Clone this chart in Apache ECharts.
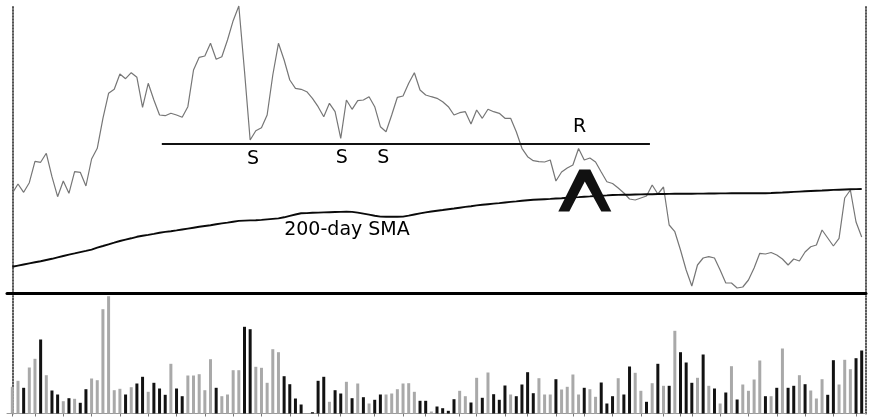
<!DOCTYPE html>
<html>
<head>
<meta charset="utf-8">
<script src="https://cdn.jsdelivr.net/npm/echarts@6/dist/echarts.min.js"></script>
<style>html,body{margin:0;padding:0;background:#fff;}#c{width:869px;height:419px;}</style>
</head>
<body>
<div id="c"></div>
<script>
// Daily closing price (arbitrary price units), 151 sessions
const price = [
98.7,108,99.7,109.3,130.7,129.7,138.7,115.3,95.3,111,
98.7,120.3,119.7,106,133,143.7,173.7,198.7,202.7,218,
213.3,219.3,214.7,184.7,208.7,192,177,176.3,178.7,177,
174.7,185.3,222,234.7,236,248.7,232.7,235.3,252,271.3,
286,221,152,161.3,164.3,177,217,248.7,232,212,
203.7,202.7,200.3,193.7,185.3,175.3,188.7,180.3,153.7,192,
182.7,191.3,192,195.3,185.3,165.3,160.3,177,194.7,196,
208.7,219.3,202,197,195.3,193.7,190.3,185.3,177,179.3,
180.3,168,182,173.7,182.7,180.3,178.7,173.7,173.7,160.3,
143.7,135.3,131.3,130.3,130,132,111,120,124,127,
143.5,132,134,130,120,110.3,108.5,104,99,93,
92,94,96,107,98,105,67,60.3,42,22,
6,27,34,35.3,34,22,9,9,4,5,
12,24,38.7,38,39.5,37,33,27,33,31,
40,45.3,47,62,54,46,53.7,94,102,70,55
];
// 200-day simple moving average
const sma200 = [
25.3,26.4,27.5,28.6,29.7,30.8,32,33.2,34.6,36,
37.4,38.6,39.9,41.1,42.4,44.4,46,47.7,49.3,51,
52.4,53.7,55.2,56.2,57.1,58.1,59.2,60.1,60.8,61.6,
62.5,63.4,64.3,65.2,66,66.8,67.7,68.6,69.4,70.3,
71.1,71.4,71.6,71.8,72.1,72.6,73.1,73.6,74.7,76.1,
77.5,78.7,78.9,79.2,79.4,79.6,79.8,80,80.1,80.3,
80.1,79.4,78.4,77.4,76.3,75.4,75.2,75.2,75.3,75.4,
76.4,77.5,78.6,79.6,80.5,81.3,82,82.8,83.5,84.3,
85.1,85.8,86.6,87.2,87.8,88.4,88.9,89.5,90.1,90.6,
91.2,91.8,92.2,92.5,92.8,93.1,93.5,93.8,94.2,94.6,
94.9,95.3,95.6,96,96.3,96.6,97,97.1,97.2,97.3,
97.5,97.6,97.7,97.8,98,98,98.1,98.2,98.2,98.3,
98.3,98.4,98.4,98.5,98.5,98.6,98.6,98.7,98.7,98.7,
98.7,98.7,98.7,98.8,99,99.3,99.5,99.8,100.1,100.4,
100.7,101,101.3,101.5,101.8,102.1,102.3,102.5,102.7,102.9,103
];
// Daily volume (arbitrary units)
const volume = [
26.7,32.7,25.7,46,54.7,74,38.3,23,19,12.3,
15.3,14.7,10.7,24.3,35,33.3,104.3,117.3,23.3,24.7,
19,26.3,30,36.7,21.7,30.7,25,18.7,49.7,25,
17.3,38,38,39.3,23.3,54.3,25.7,17.3,19,43.3,
43.3,86.7,84.3,46.7,45.7,30.7,64.3,61.3,37.3,29.3,
15,9,0,1.3,32.7,36.7,11.7,23.3,20,31.7,
15.3,30,16.3,10,13.7,19,19,20,24.3,30,
30.3,21.7,12.7,12.7,2,7,5.3,2.7,14.3,22.7,
17.3,11,35.7,15.7,41,19.3,13.7,28,19,17.3,
29,41.3,20.3,35.3,19,19,34.3,24,26.7,39,
19,25.7,24.3,16.7,31,10,17.3,35.3,19,47,
40.7,22.7,11.7,30.3,49.7,27.7,27.7,82.7,61.3,51,
30.7,35.7,59,27.7,25,10,21,47.3,14,29,
22.7,34,53,17.3,17.3,25.7,65,25.7,27.7,38.3,
29.3,23,15,34.3,18.7,53.3,29,53.7,44.3,55.3,63
];
// 1 = dark (down) volume bar, 0 = light (up) volume bar
const volumeDown = [
0,0,1,0,0,1,0,1,1,0,
1,0,1,1,0,0,0,0,0,0,
1,0,1,1,0,1,1,1,0,1,
1,0,0,0,0,0,1,0,0,0,
0,1,1,0,0,0,0,0,1,1,
1,1,0,1,1,1,0,1,1,0,
1,0,1,0,1,1,0,0,0,0,
0,0,1,1,0,1,1,1,1,0,
0,1,0,1,0,1,1,1,0,1,
1,1,1,0,0,0,1,0,0,0,
0,1,0,0,1,1,1,0,1,1,
0,0,1,0,1,0,1,0,1,1,
1,0,1,0,1,0,1,0,1,0,
0,0,0,1,0,1,0,1,1,0,
1,0,0,0,1,1,0,0,0,1,1
];
// session indices carrying a tick on the time axis
const timeTicks = [0,4,9,14,19,24,29,34,39,44,49,54,58,64,69,73,79,82,87,91,96,99,101,106,111,115,118,120,125,130,135,140,145,149];
// annotations
const noteLabels = ['S','S','S','R','200-day SMA'];
const notePoints = [[42.5,133.3],[58.2,134],[65.5,134],[100.2,164.5],[59.1,62]];
const supportLevel = 148;
const supportSpan = [26.4,112.6];
const caretPoint = [101.1,101.5];

const chart = echarts.init(document.getElementById('c'), null, {renderer:'canvas'});
const X_MIN = -0.94, X_MAX = 150.76;
const dotted = {show:true, lineStyle:{color:'#555', width:2, type:[1,2]}};
const noAxisBits = {axisTick:{show:false}, axisLabel:{show:false}, splitLine:{show:false}};
const font = 'DejaVu Sans';

chart.setOption({
  animation:false,
  backgroundColor:'#fff',
  grid:[
    {left:7, right:3, top:5, height:288},
    {left:7, right:3, top:296, height:117.5}
  ],
  xAxis:[
    Object.assign({type:'value', gridIndex:0, min:X_MIN, max:X_MAX,
      axisLine:{show:true, onZero:false, lineStyle:{color:'#000', width:3}}}, noAxisBits),
    {type:'value', gridIndex:1, min:X_MIN, max:X_MAX,
      axisLine:{show:true, onZero:false, lineStyle:{color:'#999', width:1}},
      axisTick:{show:true, customValues:timeTicks, length:3, lineStyle:{color:'#777', width:1}},
      axisLabel:{show:false}, splitLine:{show:false}}
  ],
  yAxis:[
    Object.assign({type:'value', gridIndex:0, min:-1, max:287, position:'left', axisLine:dotted}, noAxisBits),
    Object.assign({type:'value', gridIndex:0, min:-1, max:287, position:'right', axisLine:dotted}, noAxisBits),
    Object.assign({type:'value', gridIndex:1, min:0, max:117.5, position:'left', axisLine:dotted}, noAxisBits),
    Object.assign({type:'value', gridIndex:1, min:0, max:117.5, position:'right', axisLine:dotted}, noAxisBits)
  ],
  series:[
    {
      name:'Price', type:'line', xAxisIndex:0, yAxisIndex:0,
      data:price.map((v,i)=>[i,v]), showSymbol:false, symbol:'none',
      lineStyle:{color:'#767676', width:1.2}, z:3,
      markLine:{
        silent:true, symbol:['none','none'], label:{show:false},
        lineStyle:{color:'#111', width:2, type:'solid'},
        data:[[{coord:[supportSpan[0],supportLevel]},{coord:[supportSpan[1],supportLevel]}]]
      }
    },
    {
      name:'200-day SMA', type:'line', xAxisIndex:0, yAxisIndex:0,
      data:sma200.map((v,i)=>[i,v]), showSymbol:false, symbol:'none',
      lineStyle:{color:'#0a0a0a', width:1.9}, z:4
    },
    {
      name:'Notes', type:'scatter', xAxisIndex:0, yAxisIndex:0, symbolSize:0, silent:true, z:6,
      data:notePoints.map((p,k)=>({value:p, label:{show:true, position:'inside', formatter:noteLabels[k],
        color:'#000', fontSize:19, fontFamily:font, opacity:1}}))
    },
    {
      name:'Caret', type:'scatter', xAxisIndex:0, yAxisIndex:0, silent:true, z:7,
      symbol:'path://M0,42 L21,0 L32,0 L53,42 L43,42 L26.5,12 L11,42 Z',
      symbolSize:[53,42], symbolKeepAspect:false,
      itemStyle:{color:'#111', opacity:1},
      data:[caretPoint]
    },
    {
      name:'Volume', type:'bar', xAxisIndex:1, yAxisIndex:2, barWidth:3,
      data:volume.map((v,i)=>({value:[i,v], itemStyle:{color: volumeDown[i] ? '#121212' : '#a9a9a9'}}))
    }
  ]
});
</script>
</body>
</html>
